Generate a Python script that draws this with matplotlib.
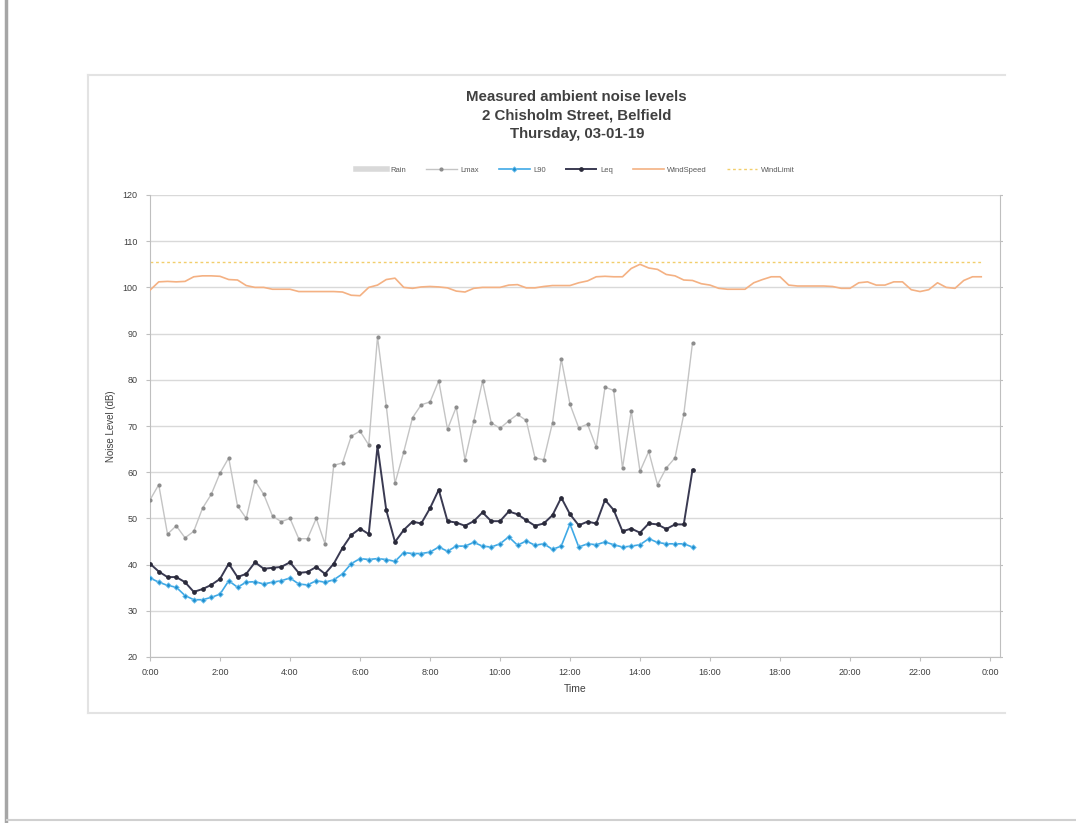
# Measured ambient noise levels - Chisholm Street

import numpy as np
import matplotlib.pyplot as plt
from matplotlib.lines import Line2D
from matplotlib.patches import Rectangle

plt.rcParams['font.family'] = ['Liberation Sans', 'DejaVu Sans']

# 15 minute samples, 0:00 - 15:30
times = np.arange(0, 15.75, 0.25)

lmax = [54.0, 57.3, 46.6, 48.4, 45.8, 47.2, 52.2, 55.2, 59.8, 63.1,
        52.7, 50.0, 58.2, 55.2, 50.5, 49.3, 50.0, 45.6, 45.6, 50.0,
        44.5, 61.5, 62.0, 67.8, 68.9, 65.9, 89.3, 74.4, 57.6, 64.4,
        71.8, 74.6, 75.2, 79.8, 69.3, 74.1, 62.7, 71.1, 79.7, 70.7,
        69.5, 71.1, 72.5, 71.2, 63.1, 62.7, 70.7, 84.5, 74.7, 69.6,
        70.4, 65.4, 78.4, 77.7, 60.9, 73.3, 60.2, 64.5, 57.3, 60.9,
        63.1, 72.5, 88.0]

leq = [40.2, 38.5, 37.3, 37.3, 36.2, 34.1, 34.7, 35.6, 36.9, 40.2,
       37.3, 38.0, 40.5, 39.1, 39.3, 39.5, 40.5, 38.2, 38.4, 39.5,
       38.0, 40.2, 43.6, 46.4, 47.8, 46.6, 65.6, 51.8, 44.9, 47.5,
       49.3, 48.9, 52.2, 56.2, 49.4, 49.1, 48.4, 49.4, 51.3, 49.4,
       49.4, 51.5, 50.9, 49.6, 48.4, 48.9, 50.7, 54.5, 50.9, 48.5,
       49.3, 48.9, 54.0, 51.8, 47.2, 47.8, 46.9, 48.9, 48.7, 47.7,
       48.7, 48.7, 60.5]

l90 = [37.1, 36.2, 35.5, 35.1, 33.3, 32.4, 32.4, 32.9, 33.6, 36.5,
       35.1, 36.2, 36.3, 35.8, 36.2, 36.5, 37.1, 35.8, 35.6, 36.5,
       36.2, 36.7, 38.0, 40.2, 41.3, 41.1, 41.3, 41.1, 40.7, 42.6,
       42.4, 42.4, 42.7, 43.8, 42.9, 44.0, 44.0, 44.8, 44.0, 43.8,
       44.5, 46.0, 44.2, 45.1, 44.2, 44.5, 43.3, 44.0, 48.8, 43.8,
       44.5, 44.3, 44.9, 44.3, 43.8, 44.0, 44.3, 45.6, 44.8, 44.5,
       44.5, 44.5, 43.8]

# wind speed (offset onto dB scale), 15 minute samples 0:00 - 23:45
wind_times = np.arange(0, 24.0, 0.25)
wind = [99.4, 101.2, 101.3, 101.2, 101.3, 102.3, 102.5, 102.5, 102.4, 101.7,
        101.6, 100.4, 100.0, 100.0, 99.6, 99.6, 99.6, 99.1, 99.1, 99.1,
        99.1, 99.1, 99.0, 98.3, 98.2, 100.0, 100.5, 101.7, 102.0, 100.0,
        99.8, 100.1, 100.2, 100.1, 99.9, 99.2, 99.0, 99.8, 100.0, 100.0,
        100.0, 100.5, 100.6, 99.9, 99.9, 100.2, 100.4, 100.4, 100.4, 101.0,
        101.4, 102.3, 102.4, 102.3, 102.3, 104.1, 105.0, 104.2, 103.9, 102.8,
        102.5, 101.6, 101.5, 100.8, 100.5, 99.8, 99.6, 99.6, 99.6, 101.0,
        101.7, 102.3, 102.3, 100.5, 100.3, 100.3, 100.3, 100.3, 100.2, 99.8,
        99.8, 101.0, 101.2, 100.5, 100.5, 101.2, 101.2, 99.5, 99.1, 99.5,
        101.0, 100.0, 99.8, 101.5, 102.3, 102.3]
wind_limit = 105.5

rain = []

xticks = list(range(0, 25, 2))
xlabels = ["%d:00" % (h % 24) for h in xticks]

fig = plt.figure(figsize=(10.76, 8.23), dpi=100)
W, H = 1076, 823

def fx(px):
    return px / W

def fy(py):
    return 1 - py / H

ax = fig.add_axes([fx(150), fy(657), fx(1000) - fx(150), fy(195) - fy(657)])

ax.plot(rain, rain, color='#D9D9D9', lw=4, label='Rain')
ax.plot(times, lmax, color='#C4C4C4', lw=1, marker='o', ms=2.0,
        mfc='#8C8C8C', mec='#8C8C8C', label='Lmax', zorder=3)
ax.plot(times, l90, color='#3FA9E6', lw=1.2, marker='D', ms=2.8,
        mfc='#1F8FD0', mec='#7CC8F0', mew=0.6, label='L90', zorder=4)
ax.plot(times, leq, color='#3A3A52', lw=1.4, marker='o', ms=2.4,
        mfc='#2A2A3A', mec='#2A2A3A', label='Leq', zorder=5)
ax.plot(wind_times, wind, color='#F4B183', lw=1.2, label='WindSpeed', zorder=3)
ax.plot([0, 23.75], [wind_limit, wind_limit], color='#F2CE6B', lw=1,
        ls=(0, (2, 2)), label='WindLimit', zorder=2)

ax.set_xlim(0, 850 / 35)
ax.set_ylim(20, 120)
ax.set_yticks(range(20, 121, 10))
ax.set_xticks(xticks)
ax.set_xticklabels(xlabels)
ax.grid(axis='y', color='#D9D9D9', lw=1)
ax.set_axisbelow(True)

ax.spines['top'].set_visible(False)
for s in ['left', 'bottom', 'right']:
    ax.spines[s].set_color('#BFBFBF')
ax.tick_params(axis='both', colors='#BFBFBF', labelcolor='#404040',
               labelsize=6.5, length=3, width=0.8)
ax.tick_params(axis='y', right=True, pad=6)
ax.tick_params(axis='x', pad=5)

ax.set_ylabel('Noise Level (dB)', fontsize=7, color='#404040', labelpad=5)
ax.set_xlabel('Time', fontsize=7.5, color='#404040', labelpad=5)

fig.text(0.536, fy(97), 'Measured ambient noise levels', ha='center', va='center',
         fontsize=10.8, fontweight='bold', color='#404040')
fig.text(0.536, fy(116), '2 Chisholm Street, Belfield', ha='center', va='center',
         fontsize=10.8, fontweight='bold', color='#404040')
fig.text(0.536, fy(134), 'Thursday, 03-01-19', ha='center', va='center',
         fontsize=10.8, fontweight='bold', color='#404040')

fig.legend(loc='center', bbox_to_anchor=(0.535, fy(170)), ncol=6, frameon=False,
           fontsize=5.5, handlelength=4, columnspacing=2.6, handletextpad=0.5,
           labelcolor='#595959')

# chart border (clipped on the right) and page edges
fig.add_artist(Rectangle((fx(1003), fy(760)), 1, fy(60) - fy(760), transform=fig.transFigure,
                         facecolor='white', edgecolor='none', zorder=10))
fig.add_artist(Line2D([fx(88), fx(1005)], [fy(75), fy(75)], color='#E3E3E3', lw=1.5, zorder=11))
fig.add_artist(Line2D([fx(88), fx(1005)], [fy(713), fy(713)], color='#E3E3E3', lw=1.5, zorder=11))
fig.add_artist(Line2D([fx(88), fx(88)], [fy(75), fy(713)], color='#E3E3E3', lw=1.5, zorder=11))
fig.add_artist(Line2D([fx(6), fx(6)], [0, 1], color='#A6A6A6', lw=2.5, zorder=11))
fig.add_artist(Line2D([fx(7), 1], [fy(820), fy(820)], color='#D0D0D0', lw=1.5, zorder=11))

fig.savefig('out.png', dpi=100, facecolor='white')
